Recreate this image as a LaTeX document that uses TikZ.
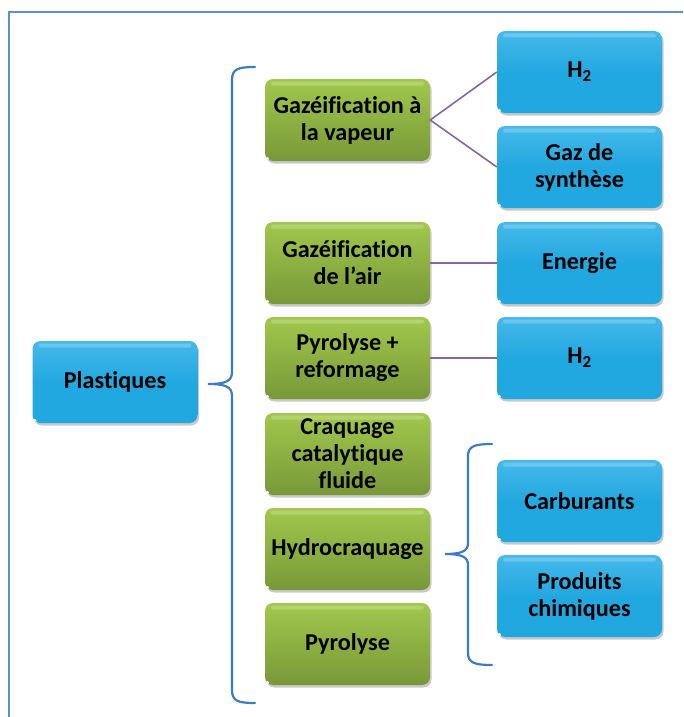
\documentclass[tikz,border=0pt]{standalone}
\usepackage{fontspec}
\setmainfont{Carlito}[Ligatures=NoCommon]
\usetikzlibrary{shadows}
\definecolor{bluebox}{HTML}{22A8E0}
\definecolor{bluetop}{HTML}{45B9EA}
\definecolor{greentop}{HTML}{A2C84C}
\definecolor{greenbot}{HTML}{789838}
\definecolor{bracecol}{HTML}{3C7CC6}
\definecolor{framecol}{HTML}{5A8ED0}
\definecolor{linkcol}{HTML}{8466A8}
\tikzset{
  boxbase/.style={minimum width=165pt, minimum height=82pt, rounded corners=8pt,
    align=center, font=\bfseries\fontsize{24.2}{27}\selectfont, text=black,
    drop shadow={shadow xshift=1.5pt, shadow yshift=-2.5pt, opacity=0.35, fill=black!60},
    path picture={
      \fill[white,opacity=0.22,rounded corners=2pt]
        ([xshift=6pt,yshift=-2.5pt]path picture bounding box.north west) rectangle
        ([xshift=-6pt,yshift=-6.5pt]path picture bounding box.north east);
      \fill[white] ([xshift=2pt,yshift=2pt]path picture bounding box.south west) circle (2pt);
    }},
  bluebx/.style={boxbase, top color=bluetop, bottom color=bluebox, middle color=bluebox},
  greenbx/.style={boxbase, top color=greentop, bottom color=greenbot},
  bracestyle/.style={draw=bracecol, line width=2.2pt, line cap=round},
  linkstyle/.style={draw=linkcol, line width=1.6pt},
}
\begin{document}
\begin{tikzpicture}[x=1pt,y=1pt]
\useasboundingbox (0,0) rectangle (683,-717);
\fill[white] (0,0) rectangle (683,-717);
% frame
\draw[framecol, line width=1.3pt] (9,-717) -- (9,-12) -- (683,-12);
% root
\node[bluebx] (plast) at (115,-382) {Plastiques};
% processes
\node[greenbx] (g1) at (347.5,-120) {Gazéification à\\la vapeur};
\node[greenbx] (g2) at (347.5,-263) {Gazéification\\de l’air};
\node[greenbx] (g3) at (347.5,-358) {Pyrolyse +\\reformage};
\node[greenbx] (g4) at (347.5,-454) {Craquage\\catalytique\\fluide};
\node[greenbx] (g5) at (347.5,-549) {Hydrocraquage};
\node[greenbx] (g6) at (347.5,-644) {Pyrolyse};
% products
\node[bluebx] (b1) at (579.5,-72) {H\textsubscript{2}};
\node[bluebx] (b2) at (579.5,-167) {Gaz de\\synthèse};
\node[bluebx] (b3) at (579.5,-263) {Energie};
\node[bluebx] (b4) at (579.5,-358) {H\textsubscript{2}};
\node[bluebx] (b5) at (579.5,-501) {Carburants};
\node[bluebx] (b6) at (579.5,-596) {Produits\\chimiques};
% links
\draw[linkstyle] (b1.west) -- (g1.east) -- (b2.west);
\draw[linkstyle] (g2.east) -- (b3.west);
\draw[linkstyle] (g3.east) -- (b4.west);
% big brace
\coordinate (bigtop) at (255,-67);
\coordinate (bigtip) at (208,-384);
\coordinate (bigbot) at (255,-703);
\draw[bracestyle] (bigtop) .. controls (238,-67) and (232,-69) .. (232,-80)
  -- (232,-372) .. controls (232,-381) and (226,-384) .. (bigtip)
  .. controls (226,-384) and (232,-387) .. (232,-396)
  -- (232,-690) .. controls (232,-701) and (238,-703) .. (bigbot);
% small brace
\coordinate (smtop) at (492,-444);
\coordinate (smtip) at (445,-554);
\coordinate (smbot) at (492,-665);
\draw[bracestyle] (smtop) .. controls (475,-444) and (468,-446) .. (468,-456)
  -- (468,-543) .. controls (468,-551) and (462,-554) .. (smtip)
  .. controls (462,-554) and (468,-557) .. (468,-565)
  -- (468,-653) .. controls (468,-663) and (475,-665) .. (smbot);
\end{tikzpicture}
\end{document}
